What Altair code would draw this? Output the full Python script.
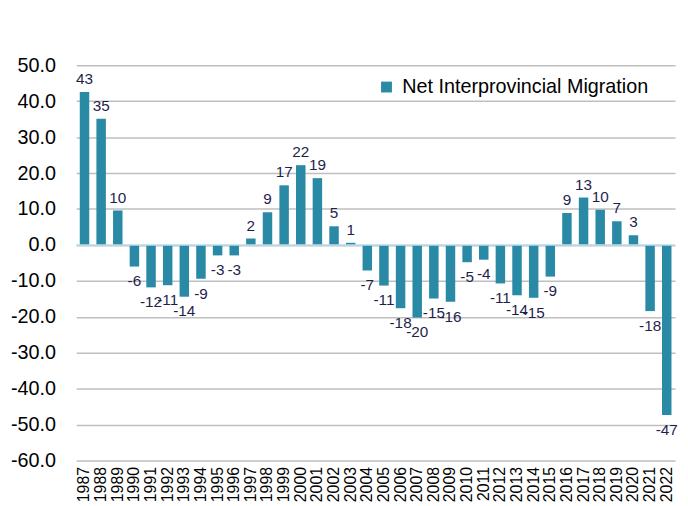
import altair as alt
import pandas as pd

years = ["1987", "1988", "1989", "1990", "1991", "1992", "1993", "1994", "1995",
         "1996", "1997", "1998", "1999", "2000", "2001", "2002", "2003", "2004",
         "2005", "2006", "2007", "2008", "2009", "2010", "2011", "2012", "2013",
         "2014", "2015", "2016", "2017", "2018", "2019", "2020", "2021", "2022"]
values = [42.6, 35.1, 9.6, -6.0, -11.8, -11.2, -14.4, -9.4, -2.9,
          -2.9, 1.8, 9.1, 16.6, 22.2, 18.6, 5.2, 0.6, -7.1,
          -11.3, -17.6, -20.2, -14.9, -15.8, -4.8, -4.1, -10.7, -14.0,
          -14.7, -8.8, 8.9, 13.2, 9.8, 6.6, 2.7, -18.4, -47.3]
labels = [43, 35, 10, -6, -12, -11, -14, -9, -3,
          -3, 2, 9, 17, 22, 19, 5, 1, -7,
          -11, -18, -20, -15, -16, -5, -4, -11, -14,
          -15, -9, 9, 13, 10, 7, 3, -18, -47]
series = "Net Interprovincial Migration"
y_ticks = [-60, -50, -40, -30, -20, -10, 0, 10, 20, 30, 40, 50]

df = pd.DataFrame({"year": years, "value": values,
                   "label": [str(v) for v in labels], "series": series})

x_enc = alt.X("year:N", sort=None, title=None,
              scale=alt.Scale(paddingInner=0.43, paddingOuter=0.215),
              axis=alt.Axis(labelAngle=-90, labelFontSize=16, labelColor="#000000",
                            domain=False, ticks=False, labelPadding=6, grid=False,
                            labelOverlap=False))
y_axis = alt.Axis(values=y_ticks, labelFontSize=20,
                  labelExpr="(datum.value < 0 ? '-' : '') + format(abs(datum.value), '.1f')",
                  labelColor="#000000", domain=False, ticks=False,
                  labelOverlap=False,
                  labelPadding=21, gridColor="#bfbfbf", gridWidth=1.5)
y_scale = alt.Scale(domain=[-60, 50], nice=False, zero=False)
y_enc = alt.Y("value:Q", title=None, scale=y_scale, axis=y_axis)

base = alt.Chart(df)

bars = base.mark_bar().encode(
    x=x_enc, y=y_enc,
    color=alt.Color("series:N", scale=alt.Scale(range=["#2a8aa6"]),
                    legend=alt.Legend(title=None, orient="none", legendX=304, legendY=12,
                                      symbolType="square", symbolSize=121,
                                      symbolStrokeWidth=0, labelFontSize=20,
                                      labelLimit=0,
                                      labelColor="#000000", labelOffset=6)),
)

zero = alt.Chart(pd.DataFrame({"value": [0]})).mark_rule(color="#b8dcec", strokeWidth=1.5).encode(
    y=y_enc
)

pos_text = base.transform_filter("datum.value >= 0").mark_text(
    baseline="alphabetic", dy=-8, fontSize=15.5, color="#1f1f4d"
).encode(x=x_enc, y=y_enc, text="label:N")

neg_text = base.transform_filter("datum.value < 0").mark_text(
    baseline="top", dy=8, fontSize=15.5, color="#1f1f4d"
).encode(x=x_enc, y=y_enc, text="label:N")

chart = alt.layer(bars, zero, pos_text, neg_text).properties(
    width=606, height=400,
    autosize=alt.AutoSizeParams(type="none"),
    padding={"left": 69, "top": 55, "right": 5, "bottom": 45},
).configure(font="Liberation Sans").configure_view(stroke=None)

chart.save("out.html", embed_options={"renderer": "svg", "actions": False})
